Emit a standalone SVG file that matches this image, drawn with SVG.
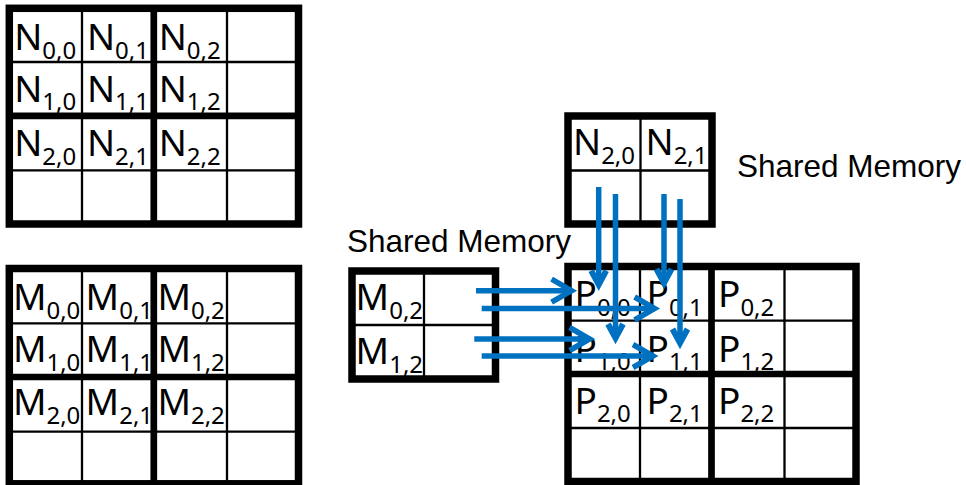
<svg xmlns="http://www.w3.org/2000/svg" width="966" height="485" viewBox="0 0 966 485">
<style>
.bg{fill:#ffffff}
.c{font-family:"Noto Sans","Open Sans",sans-serif;font-size:37px;fill:#000}
.s{font-size:24px}
.t{stroke:#000;stroke-width:2.3;fill:none}
.k{stroke:#000;stroke-width:6.7;fill:none}
.o{stroke:#000;stroke-width:7.5;fill:none}
.lbl{font-family:"Liberation Sans",Arial,sans-serif;font-size:31.5px;fill:#000}
.a{stroke:#0070C0;stroke-width:5.5;fill:none}
</style>
<defs>
<marker id="hh" markerUnits="userSpaceOnUse" viewBox="-30 -20 40 40" markerWidth="40" markerHeight="40" refX="0" refY="0" orient="auto" overflow="visible">
<path d="M-20,-11.5 L0,0 L-20,11.5" fill="none" stroke="#0070C0" stroke-width="5.5" stroke-miterlimit="10"/>
</marker>
<marker id="vh" markerUnits="userSpaceOnUse" viewBox="-30 -20 40 40" markerWidth="40" markerHeight="40" refX="0" refY="0" orient="auto" overflow="visible">
<path d="M-14,-7.5 L0,0 L-14,7.5" fill="none" stroke="#0070C0" stroke-width="6" stroke-miterlimit="10"/>
</marker>
</defs>
<rect class="bg" x="0" y="0" width="966" height="485"/>

<g id="matrixN">
<text class="c" x="14.2" y="50">N<tspan class="s" dy="8.5">0,0</tspan></text>
<text class="c" x="86.9" y="50">N<tspan class="s" dy="8.5">0,1</tspan></text>
<text class="c" x="158.7" y="50">N<tspan class="s" dy="8.5">0,2</tspan></text>
<text class="c" x="14.2" y="101.7">N<tspan class="s" dy="8.5">1,0</tspan></text>
<text class="c" x="86.9" y="101.7">N<tspan class="s" dy="8.5">1,1</tspan></text>
<text class="c" x="158.7" y="101.7">N<tspan class="s" dy="8.5">1,2</tspan></text>
<text class="c" x="14.2" y="156">N<tspan class="s" dy="8.5">2,0</tspan></text>
<text class="c" x="86.9" y="156">N<tspan class="s" dy="8.5">2,1</tspan></text>
<text class="c" x="158.7" y="156">N<tspan class="s" dy="8.5">2,2</tspan></text>
<path class="t" d="M82,8.3V224M227,8.3V224M9.3,62H298.5M9.3,170.3H298.5"/>
<path class="k" d="M153.8,8.3V224M9.3,115.8H298.5"/>
<rect class="o" x="9.3" y="8.3" width="289.2" height="215.7"/>
</g>

<g id="matrixM">
<text class="c" x="12.9" y="310">M<tspan class="s" dy="8.5">0,0</tspan></text>
<text class="c" x="85.6" y="310">M<tspan class="s" dy="8.5">0,1</tspan></text>
<text class="c" x="157.4" y="310">M<tspan class="s" dy="8.5">0,2</tspan></text>
<text class="c" x="12.9" y="362">M<tspan class="s" dy="8.5">1,0</tspan></text>
<text class="c" x="85.6" y="362">M<tspan class="s" dy="8.5">1,1</tspan></text>
<text class="c" x="157.4" y="362">M<tspan class="s" dy="8.5">1,2</tspan></text>
<text class="c" x="12.9" y="415">M<tspan class="s" dy="8.5">2,0</tspan></text>
<text class="c" x="85.6" y="415">M<tspan class="s" dy="8.5">2,1</tspan></text>
<text class="c" x="157.4" y="415">M<tspan class="s" dy="8.5">2,2</tspan></text>
<path class="t" d="M82,268.5V483.8M227,268.5V483.8M9.3,323.3H298.5M9.3,431.7H298.5"/>
<path class="k" d="M153.8,268.5V483.8M9.3,377H298.5"/>
<rect class="o" x="9.3" y="268.5" width="289.2" height="215.3"/>
</g>

<g id="tileN">
<text class="c" x="573" y="155">N<tspan class="s" dy="8.5">2,0</tspan></text>
<text class="c" x="645.5" y="155">N<tspan class="s" dy="8.5">2,1</tspan></text>
<path class="t" d="M640.5,116V224M568,170.5H712"/>
<rect class="o" x="568" y="116" width="144" height="108"/>
</g>

<g id="tileM">
<text class="c" x="355.6" y="310">M<tspan class="s" dy="8.5">0,2</tspan></text>
<text class="c" x="355.6" y="364">M<tspan class="s" dy="8.5">1,2</tspan></text>
<path class="t" d="M424,271V379M352,325H495.5"/>
<rect class="o" x="352" y="271" width="143.5" height="108"/>
</g>

<g id="matrixP">
<text class="c" x="574.5" y="307">P<tspan class="s" dy="8.5">0,0</tspan></text>
<text class="c" x="646.5" y="307">P<tspan class="s" dy="8.5">0,1</tspan></text>
<text class="c" x="718" y="307">P<tspan class="s" dy="8.5">0,2</tspan></text>
<text class="c" x="574.5" y="361.5">P<tspan class="s" dy="8.5">1,0</tspan></text>
<text class="c" x="646.5" y="361.5">P<tspan class="s" dy="8.5">1,1</tspan></text>
<text class="c" x="718" y="361.5">P<tspan class="s" dy="8.5">1,2</tspan></text>
<text class="c" x="574.5" y="413.5">P<tspan class="s" dy="8.5">2,0</tspan></text>
<text class="c" x="646.5" y="413.5">P<tspan class="s" dy="8.5">2,1</tspan></text>
<text class="c" x="718" y="413.5">P<tspan class="s" dy="8.5">2,2</tspan></text>
<path class="t" d="M640,266.5V481.5M784.5,266.5V481.5M568,320.7H856M568,428H856"/>
<path class="k" d="M711.5,266.5V481.5M568,374H856"/>
<rect class="o" x="568" y="266.5" width="288" height="215"/>
</g>

<g id="labels">
<text class="lbl" x="347" y="252">Shared Memory</text>
<text class="lbl" x="737" y="177">Shared Memory</text>
</g>

<g id="connectors">
<line class="a" x1="476" y1="290.7" x2="571.6" y2="290.7" marker-end="url(#hh)"/>
<line class="a" x1="481.7" y1="308.5" x2="654.6" y2="308.5" marker-end="url(#hh)"/>
<line class="a" x1="474.3" y1="339" x2="589.6" y2="339" marker-end="url(#hh)"/>
<line class="a" x1="481.7" y1="356" x2="653" y2="356" marker-end="url(#hh)"/>
<line class="a" x1="598.7" y1="187" x2="598.7" y2="284.6" marker-end="url(#vh)"/>
<line class="a" x1="615.5" y1="194" x2="615.5" y2="338" marker-end="url(#vh)"/>
<line class="a" x1="664" y1="194" x2="664" y2="283" marker-end="url(#vh)"/>
<line class="a" x1="680" y1="199" x2="680" y2="343" marker-end="url(#vh)"/>
</g>
</svg>
